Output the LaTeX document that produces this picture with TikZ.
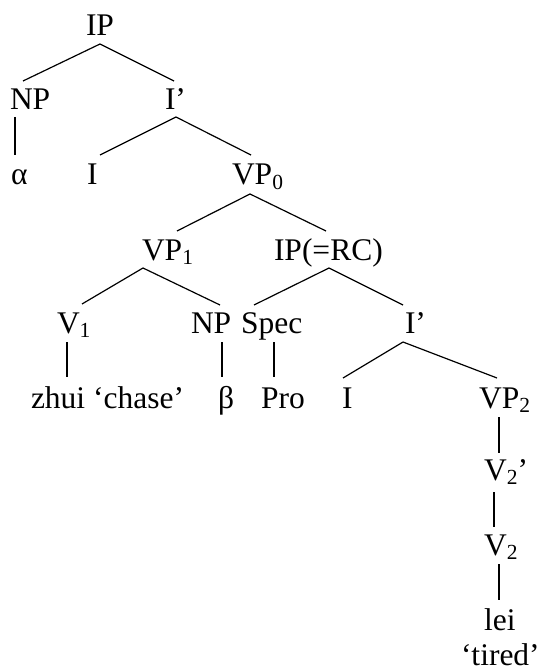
\documentclass[tikz,border=0pt]{standalone}
\usepackage{fontspec}
\setmainfont{Liberation Serif}
\newcommand\subs[1]{\raisebox{-4.5pt}{\fontsize{21.5}{22}\selectfont #1}}
\tikzset{
  lbl/.style={anchor=base west, inner sep=0pt, outer sep=0pt, font=\fontsize{31.5}{35}\selectfont},
  edge/.style={line width=1.2pt},
  vedge/.style={line width=1.7pt}
}
\begin{document}
\begin{tikzpicture}[x=1pt,y=-1pt]
\useasboundingbox (0,0) rectangle (537,668);
% nodes
\node[lbl] (IP) at (86,36) {IP};
\node[lbl] (NPa) at (10,110) {NP};
\node[lbl] (Ipa) at (165,110) {I’};
\node[lbl] (alpha) at (11,185) {α};
\node[lbl] (Ia) at (87,185) {I};
\node[lbl] (VP0) at (232,185) {VP\subs{0}};
\node[lbl] (VP1) at (142,260) {VP\subs{1}};
\node[lbl] (IPRC) at (274,260) {IP(=RC)};
\node[lbl] (V1) at (57,333) {V\subs{1}};
\node[lbl] (NPb) at (191,333) {NP};
\node[lbl] (Spec) at (241,333) {Spec};
\node[lbl] (Ipb) at (405,333) {I’};
\node[lbl] (zhui) at (31,408) {zhui ‘chase’};
\node[lbl] (beta) at (218,408) {β};
\node[lbl] (Pro) at (261,408) {Pro};
\node[lbl] (Ib) at (342,408) {I};
\node[lbl] (VP2) at (479,408) {VP\subs{2}};
\node[lbl] (V2p) at (484,480) {V\subs{2}’};
\node[lbl] (V2) at (484,555) {V\subs{2}};
\node[lbl] (lei) at (484,630) {lei};
\node[lbl] (tired) at (461,665) {‘tired’};
% connectors
\draw[edge] ([shift={(14,8)}]IP.base west) -- ([shift={(13,-29)}]NPa.base west);
\draw[edge] ([shift={(14,8)}]IP.base west) -- ([shift={(9,-29)}]Ipa.base west);
\draw[vedge] ([shift={(5,7)}]NPa.base west) -- ([shift={(4,-30)}]alpha.base west);
\draw[edge] ([shift={(11,7)}]Ipa.base west) -- ([shift={(13,-30)}]Ia.base west);
\draw[edge] ([shift={(11,7)}]Ipa.base west) -- ([shift={(19,-30)}]VP0.base west);
\draw[edge] ([shift={(18,9)}]VP0.base west) -- ([shift={(35,-29)}]VP1.base west);
\draw[edge] ([shift={(18,9)}]VP0.base west) -- ([shift={(52,-29)}]IPRC.base west);
\draw[edge] ([shift={(1,8)}]VP1.base west) -- ([shift={(25,-29)}]V1.base west);
\draw[edge] ([shift={(1,8)}]VP1.base west) -- ([shift={(29,-28)}]NPb.base west);
\draw[edge] ([shift={(55,8)}]IPRC.base west) -- ([shift={(13,-28)}]Spec.base west);
\draw[edge] ([shift={(55,8)}]IPRC.base west) -- ([shift={(-2,-28)}]Ipb.base west);
\draw[vedge] ([shift={(10,9)}]V1.base west) -- ([shift={(36,-31)}]zhui.base west);
\draw[vedge] ([shift={(31,9)}]NPb.base west) -- ([shift={(4,-31)}]beta.base west);
\draw[vedge] ([shift={(33,9)}]Spec.base west) -- ([shift={(13,-31)}]Pro.base west);
\draw[edge] ([shift={(-2,9)}]Ipb.base west) -- ([shift={(1,-30)}]Ib.base west);
\draw[edge] ([shift={(-2,9)}]Ipb.base west) -- ([shift={(18,-30)}]VP2.base west);
\draw[vedge] ([shift={(20,9)}]VP2.base west) -- ([shift={(15,-27)}]V2p.base west);
\draw[vedge] ([shift={(10,12)}]V2p.base west) -- ([shift={(10,-28)}]V2.base west);
\draw[vedge] ([shift={(15,9)}]V2.base west) -- ([shift={(15,-30)}]lei.base west);
\end{tikzpicture}
\end{document}
